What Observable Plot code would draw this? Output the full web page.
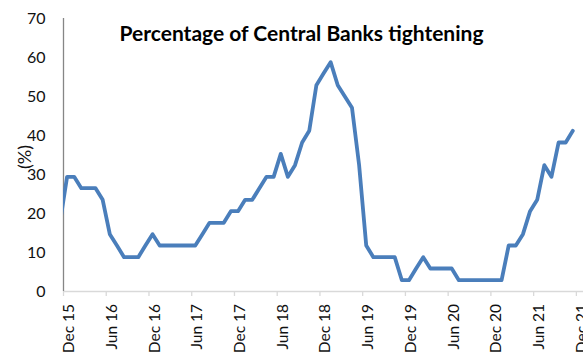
<!DOCTYPE html>
<html><head><meta charset="utf-8">
<script src="https://cdn.jsdelivr.net/npm/d3@7"></script>
<script src="https://cdn.jsdelivr.net/npm/@observablehq/plot@0.6"></script>
<style>
html,body{margin:0;padding:0;background:#fff;}
#chart{width:583px;height:354px;overflow:hidden;position:relative;}
</style></head><body><div id="chart"></div>
<script>
const title = "Percentage of Central Banks tightening";
const yLabel = "(%)";
// Monthly values, Nov 15 (partly hidden behind the axis) through Dec 21
const values = [
  17.6,                                                        // Nov 15
  29.4, 29.4, 26.5, 26.5, 26.5, 23.5, 14.7, 11.8, 8.8, 8.8, 8.8, 11.8, // Dec 15 - Nov 16
  14.7, 11.8, 11.8, 11.8, 11.8, 11.8, 11.8, 14.7, 17.6, 17.6, 17.6, 20.6, // Dec 16 - Nov 17
  20.6, 23.5, 23.5, 26.5, 29.4, 29.4, 35.3, 29.4, 32.4, 38.2, 41.2, 52.9, // Dec 17 - Nov 18
  55.9, 58.8, 52.9, 50.0, 47.1, 32.4, 11.8, 8.8, 8.8, 8.8, 8.8, 2.9,      // Dec 18 - Nov 19
  2.9, 5.9, 8.8, 5.9, 5.9, 5.9, 5.9, 2.9, 2.9, 2.9, 2.9, 2.9,             // Dec 19 - Nov 20
  2.9, 2.9, 11.8, 11.8, 14.7, 20.6, 23.5, 32.4, 29.4, 38.2, 38.2,         // Dec 20 - Oct 21
  41.2                                                         // Dec 21
];
const tickLabels = ["Dec 15","Jun 16","Dec 16","Jun 17","Dec 17","Jun 18","Dec 18","Jun 19","Dec 19","Jun 20","Dec 20","Jun 21","Dec 21"];
const yTicks = [0, 10, 20, 30, 40, 50, 60, 70];

// index 0 = Dec 15
const data = values.map((v, k) => ({i: k - 1, v}));
const labelPos = tickLabels.map((_, k) => k * 6);
const labelMap = new Map(labelPos.map((p, k) => [p, tickLabels[k]]));
const boundaries = labelPos.map(p => p - 0.5);

const font = "Lato, 'Open Sans', sans-serif";

const plot = Plot.plot({
  width: 583,
  height: 354,
  marginLeft: 63,
  marginRight: 0,
  marginTop: 18,
  marginBottom: 63,
  style: {fontFamily: font, fontSize: "15.5px", color: "#111", background: "#fff"},
  x: {domain: [-0.5, 72.5], axis: null},
  y: {domain: [0, 70], axis: null},
  marks: [
    Plot.ruleY([0], {stroke: "#d9d9d9", strokeWidth: 1.3}),
    Plot.axisX({ticks: boundaries, tickFormat: () => "", tickSize: 5, stroke: "#d9d9d9", strokeWidth: 1.3, label: null}),
    Plot.axisX({ticks: labelPos, tickFormat: p => labelMap.get(p), tickSize: 0, tickPadding: 12.5, tickRotate: -90, label: null, fontSize: 15.5, fill: "#111", dx: 2}),
    Plot.axisY({ticks: yTicks, tickSize: 0, tickPadding: 18, label: null, fontSize: 16, fill: "#111"}),
    Plot.ruleX([-0.5], {stroke: "#868686", strokeWidth: 1.3}),
    Plot.line(data, {x: "i", y: "v", stroke: "#4a7ebb", strokeWidth: 3.8, clip: true}),
    Plot.text([title], {frameAnchor: "top", dx: -22, dy: 16, fontWeight: "bold", fontSize: 21, fill: "#000", lineAnchor: "middle"}),
    Plot.text([yLabel], {frameAnchor: "left", textAnchor: "middle", rotate: -90, dx: -38, dy: 2, fontSize: 18, fill: "#111", lineAnchor: "middle"})
  ]
});
document.getElementById("chart").appendChild(plot);
</script>
</body></html>
